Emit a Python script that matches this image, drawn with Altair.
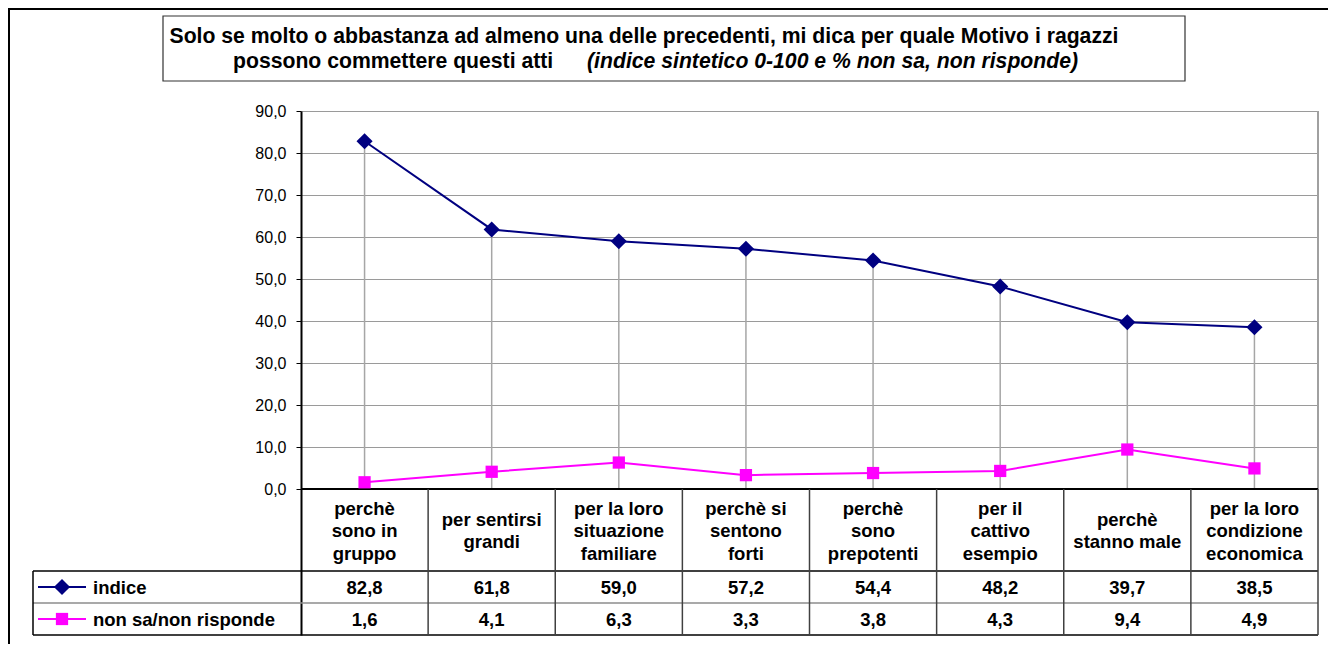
import altair as alt
import pandas as pd

# ---------------- data ----------------
categories = [
    "perchè\nsono in\ngruppo",
    "per sentirsi\ngrandi",
    "per la loro\nsituazione\nfamiliare",
    "perchè si\nsentono\nforti",
    "perchè\nsono\nprepotenti",
    "per il\ncattivo\nesempio",
    "perchè\nstanno male",
    "per la loro\ncondizione\neconomica",
]
indice = [82.8, 61.8, 59.0, 57.2, 54.4, 48.2, 39.7, 38.5]
non_sa = [1.6, 4.1, 6.3, 3.3, 3.8, 4.3, 9.4, 4.9]
series_names = ["indice", "non sa/non risponde"]
series_colors = ["#000080", "#FF00FF"]
series_shapes = ["diamond", "square"]
y_ticks = [0, 10, 20, 30, 40, 50, 60, 70, 80, 90]
title_line1 = "Solo se molto o abbastanza ad almeno una delle precedenti, mi dica per quale Motivo i ragazzi"
title_line2a = "possono commettere questi atti"
title_line2b = "(indice sintetico 0-100 e % non sa, non risponde)"

FONT = "Liberation Sans"

# ---------------- layout ----------------
PLOT_W = 1017
TOTAL_H = 524            # plot area + data table
Y_MAX = 90
PX_PER_UNIT = 4.2
Y_MIN = Y_MAX - TOTAL_H / PX_PER_UNIT      # bottom of table in data units
N = len(categories)
COL_PX = PLOT_W / N
HEADER_H = 82 / PX_PER_UNIT
ROW_H = 32 / PX_PER_UNIT
LEGEND_LEFT = -268 / COL_PX
LINE_H = 22.5
y_hdr = -HEADER_H
y_r1 = -HEADER_H - ROW_H
y_r2 = -HEADER_H - 2 * ROW_H

xscale = alt.Scale(domain=[0, N], nice=False, zero=False)
yscale = alt.Scale(domain=[Y_MIN, Y_MAX], nice=False, zero=False)
yaxis = alt.Axis(
    values=y_ticks, title=None, grid=True, gridColor="#9a9a9a", gridWidth=1,
    domainColor="#000000", domainWidth=2, tickColor="#000000", tickSize=5,
    tickWidth=1, labelFontSize=16, labelColor="#000000", labelFont=FONT,
    labelPadding=10,
    labelExpr="replace(format(datum.value, '.1f'), '.', ',')",
)


def X(field):
    return alt.X(field, type="quantitative", scale=xscale, axis=None)


def Y(field):
    return alt.Y(field, type="quantitative", scale=yscale, axis=yaxis)


fmt = lambda v: f"{v:.1f}".replace(".", ",")
df = pd.DataFrame({
    "pos": [i + 0.5 for i in range(N)],
    "cat": categories,
    "indice": indice,
    "non_sa": non_sa,
    "indice_lbl": [fmt(v) for v in indice],
    "non_sa_lbl": [fmt(v) for v in non_sa],
})
# vertical position of the first line of each header cell, so the block is centred
df["cat_y"] = [y_hdr / 2 + (c.count("\n")) / 2 * LINE_H / PX_PER_UNIT for c in categories]

long = pd.concat([
    pd.DataFrame({"pos": df["pos"], "value": indice, "serie": series_names[0]}),
    pd.DataFrame({"pos": df["pos"], "value": non_sa, "serie": series_names[1]}),
])
color = alt.Color("serie:N", scale=alt.Scale(domain=series_names, range=series_colors), legend=None)
shape = alt.Shape("serie:N", scale=alt.Scale(domain=series_names, range=series_shapes), legend=None)

# drop lines (carry the y axis / grid)
drops = alt.Chart(df).mark_rule(color="#a6a6a6", strokeWidth=1.5).encode(
    x=X("pos"), y=Y("indice"), y2=alt.datum(0)
)

# plot right border
right_border = alt.Chart(pd.DataFrame({"x": [N], "y": [0], "y2": [Y_MAX]})).mark_rule(
    color="#a0a0a0", strokeWidth=2
).encode(x=X("x"), y=Y("y"), y2="y2")

lines = alt.Chart(long).mark_line(strokeWidth=2).encode(
    x=X("pos"), y=Y("value"), color=color, detail="serie:N"
)
points = alt.Chart(long).mark_point(filled=True, opacity=1).encode(
    x=X("pos"), y=Y("value"), color=color, shape=shape,
    size=alt.Size("serie:N", scale=alt.Scale(domain=series_names, range=[260, 150]), legend=None),
)

# ---------------- data table ----------------
hlines = pd.DataFrame({
    "x": [0, LEGEND_LEFT, LEGEND_LEFT, LEGEND_LEFT],
    "x2": [N, N, N, N],
    "y": [0, y_hdr, y_r1, y_r2],
    "c": ["#000000", "#000000", "#8c8c8c", "#000000"],
    "w": [2, 1.5, 1.5, 1.5],
})
h_rules = alt.Chart(hlines).mark_rule().encode(
    x=X("x"), x2="x2", y=Y("y"),
    color=alt.Color("c:N", scale=None), strokeWidth=alt.StrokeWidth("w:Q", scale=None),
)
vlines = pd.DataFrame({
    "x": list(range(1, N)) + [N, LEGEND_LEFT],
    "y": [y_r2] * N + [y_r2],
    "y2": [0] * (N - 1) + [0, y_hdr],
    "c": ["#404040"] * (N - 1) + ["#404040", "#000000"],
})
v_rules = alt.Chart(vlines).mark_rule(strokeWidth=1.5).encode(
    x=X("x"), y=Y("y"), y2="y2", color=alt.Color("c:N", scale=None)
)

cat_text = alt.Chart(df).mark_text(
    font=FONT, fontSize=18.5, fontWeight="bold", lineBreak="\n", lineHeight=LINE_H,
    baseline="middle", align="center", color="#000000", dy=1,
).encode(x=X("pos"), y=Y("cat_y"), text="cat:N")

val1 = alt.Chart(df).transform_calculate(yy=str((y_hdr + y_r1) / 2)).mark_text(
    font=FONT, fontSize=18.5, fontWeight="bold", baseline="middle", align="center", color="#000000", dy=1
).encode(x=X("pos"), y=Y("yy"), text="indice_lbl:N")
val2 = alt.Chart(df).transform_calculate(yy=str((y_r1 + y_r2) / 2)).mark_text(
    font=FONT, fontSize=18.5, fontWeight="bold", baseline="middle", align="center", color="#000000", dy=1
).encode(x=X("pos"), y=Y("yy"), text="non_sa_lbl:N")

# legend keys inside the table
key_l = LEGEND_LEFT + 5 / COL_PX
key_r = LEGEND_LEFT + 53 / COL_PX
key_c = (key_l + key_r) / 2
leg = pd.DataFrame({
    "serie": series_names,
    "x": [key_l, key_l], "x2": [key_r, key_r], "xc": [key_c, key_c],
    "xt": [LEGEND_LEFT + 60 / COL_PX] * 2,
    "y": [(y_hdr + y_r1) / 2, (y_r1 + y_r2) / 2],
})
leg_lines = alt.Chart(leg).mark_rule(strokeWidth=2).encode(
    x=X("x"), x2="x2", y=Y("y"), color=color
)
leg_pts = alt.Chart(leg).mark_point(filled=True, opacity=1).encode(
    x=X("xc"), y=Y("y"), color=color, shape=shape,
    size=alt.Size("serie:N", scale=alt.Scale(domain=series_names, range=[150, 90]), legend=None),
)
leg_text = alt.Chart(leg).mark_text(
    font=FONT, fontSize=18.5, fontWeight="bold", align="left", baseline="middle", color="#000000", dy=1
).encode(x=X("xt"), y=Y("y"), text="serie:N")

# ---------------- frame and title box ----------------
one = pd.DataFrame({"a": [1]})
outer_top = alt.Chart(one).mark_rule(color="#000000", strokeWidth=2).encode(
    x=alt.value(-292), x2=alt.value(1027), y=alt.value(-102)
)
outer_left = alt.Chart(one).mark_rule(color="#000000", strokeWidth=2).encode(
    x=alt.value(-292), y=alt.value(-103), y2=alt.value(533)
)
title_box = alt.Chart(one).mark_rect(fill="#ffffff", stroke="#333333", strokeWidth=1.2).encode(
    x=alt.value(-138), x2=alt.value(884), y=alt.value(-95), y2=alt.value(-30)
)
t1 = alt.Chart(pd.DataFrame({"t": [title_line1]})).mark_text(
    font=FONT, fontSize=21.2, fontWeight="bold", align="center", baseline="middle", color="#000000"
).encode(x=alt.value(343), y=alt.value(-74), text="t:N")
t2a = alt.Chart(pd.DataFrame({"t": [title_line2a]})).mark_text(
    font=FONT, fontSize=21.2, fontWeight="bold", align="left", baseline="middle", color="#000000"
).encode(x=alt.value(-68), y=alt.value(-49), text="t:N")
t2b = alt.Chart(pd.DataFrame({"t": [title_line2b]})).mark_text(
    font=FONT, fontSize=21.2, fontWeight="bold", fontStyle="italic", align="right",
    baseline="middle", color="#000000"
).encode(x=alt.value(777), y=alt.value(-49), text="t:N")

chart = alt.layer(
    drops, right_border, h_rules, v_rules, lines, points,
    cat_text, val1, val2, leg_lines, leg_pts, leg_text,
    outer_top, outer_left, title_box, t1, t2a, t2b,
).properties(
    width=PLOT_W, height=TOTAL_H,
    autosize=alt.AutoSizeParams(type="none"),
    padding={"left": 293, "top": 103, "right": 10, "bottom": 9},
).configure_view(stroke=None)

chart.save("out.html", embed_options={"renderer": "svg", "actions": False})
